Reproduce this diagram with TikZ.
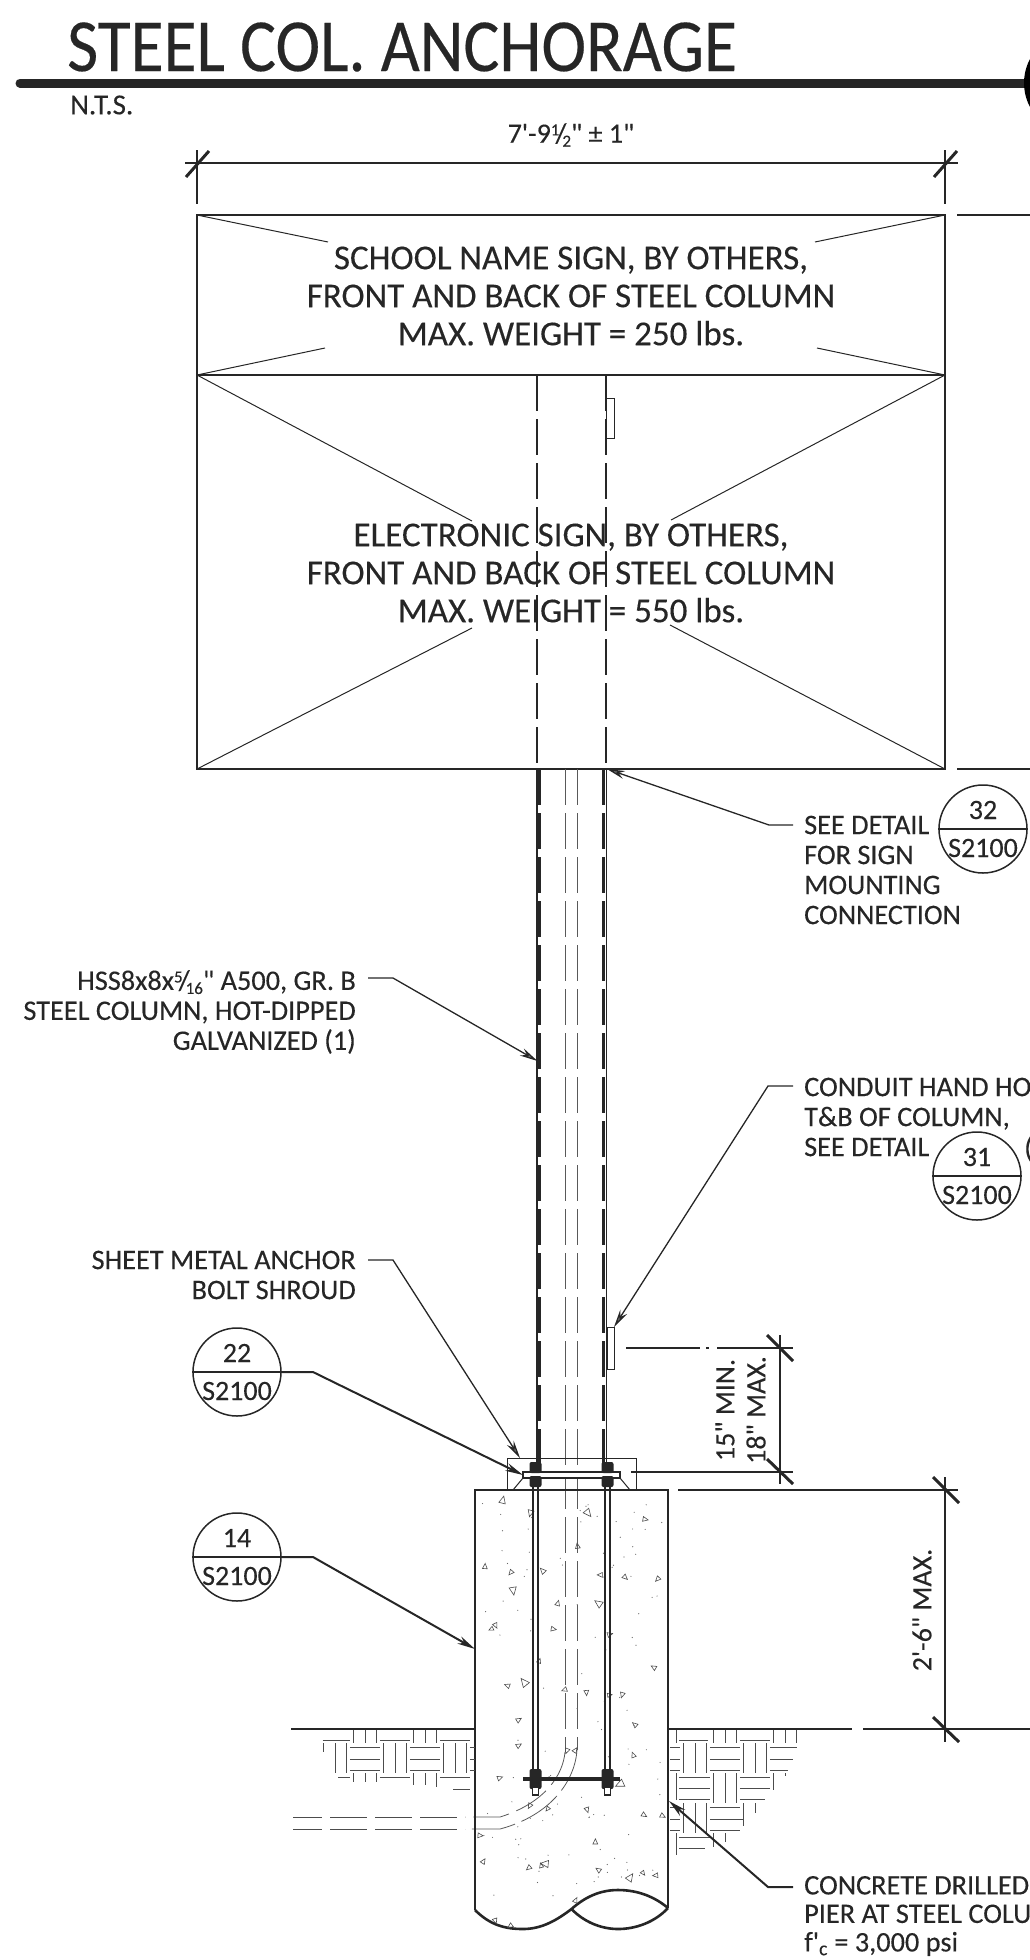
\documentclass[tikz,border=0pt]{standalone}
\usepackage{fontspec}
\usetikzlibrary{arrows.meta}
\newfontfamily\cadfont{Carlito}[FakeBold=.25]
\newfontfamily\cadnarrow{Carlito}[FakeStretch=.9,FakeBold=.25]
\newcommand{\stackfrac}[2]{\raisebox{.55ex}{\fontsize{17}{17}\selectfont #1}\kern-.14em/\kern-.14em\raisebox{-.3ex}{\fontsize{17}{17}\selectfont #2}}
\colorlet{ink}{black!85}
\tikzset{
	every node/.style={font=\cadfont, text=ink, inner sep=0pt},
	signtext/.style={align=center, font=\cadfont\fontsize{35}{38}\selectfont},
	notetext/.style={font=\cadfont\fontsize{28.3}{30}\selectfont},
	piertext/.style={font=\cadfont\fontsize{28.3}{28.5}\selectfont},
	dimtext/.style={font=\cadfont\fontsize{28}{31}\selectfont},
	bubble/.style={draw=ink, circle, line width=1.5pt, minimum size=88pt},
	bubbletext/.style={font=\cadfont\fontsize{28}{28}\selectfont},
	thinline/.style={draw=ink, line width=1pt},
	mainline/.style={draw=ink, line width=1.5pt},
	dimline/.style={draw=ink, line width=1.1pt},
	dimtick/.style={draw=ink, line width=3pt},
	leader/.style={draw=ink, line width=1.3pt, -{Stealth[length=18pt,width=8pt,fill=black!55]}},
	heavyleader/.style={leader, line width=2pt},
	coldash/.style={draw=ink, line width=2.2pt, dash pattern=on 36pt off 8pt},
	centerdash/.style={draw=black!65, line width=.8pt, dash pattern=on 36pt off 8pt},
	soil/.style={draw=black!70, line width=.7pt},
	pier/.style={draw=ink, line width=2.6pt},
	boltline/.style={draw=ink, line width=2pt},
	nut/.style={fill=ink, rounded corners=2pt},
	aggregate/.style={draw=black!70, line width=.6pt}
}
\begin{document}
\begin{tikzpicture}[x=1pt,y=-1pt]
\useasboundingbox (0,0) rectangle (1030,1960);

% title
\node (title) [anchor=west, font=\cadnarrow\fontsize{75}{75}\selectfont] at (67,47) {STEEL COL. ANCHORAGE};
\draw[line width=9pt, ink, line cap=round] (20,83) -- (1030,83);
\draw[line width=10pt, black] (1075,83) circle (46);
\node (nts) [anchor=west, font=\cadfont\fontsize{29}{29}\selectfont] at (70,105) {N.T.S.};

% width dimension
\node (widthdim) [dimtext] at (571,135) {7'-9\stackfrac{1}{2}" ± 1"};
\draw[dimline] (185,163) -- (958,163);
\draw[dimline] (197,150) -- (197,204);
\draw[dimline] (945,150) -- (945,204);
\draw[dimtick] (186,177) -- (209,151);
\draw[dimtick] (934,177) -- (957,151);
\draw[mainline] (957,215) -- (1030,215);
\draw[mainline] (957,769) -- (1030,769);

% signs
\draw[mainline] (197,215) rectangle (945,769);
\draw[mainline] (197,375) -- (945,375);
\draw[thinline] (197,215) -- (328,242);
\draw[thinline] (945,215) -- (815,242);
\draw[thinline] (197,375) -- (325,348);
\draw[thinline] (945,375) -- (817,348);
\draw[thinline] (197,375) -- (472,521);
\draw[thinline] (945,375) -- (671,520);
\draw[thinline] (197,769) -- (472,628);
\draw[thinline] (945,769) -- (670,625);
\node (schoolsign) [signtext] at (571,296) {SCHOOL NAME SIGN, BY OTHERS,\\FRONT AND BACK OF STEEL COLUMN\\MAX. WEIGHT = 250 lbs.};
\node (elecsign) [signtext] at (571,573) {ELECTRONIC SIGN, BY OTHERS,\\FRONT AND BACK OF STEEL COLUMN\\MAX. WEIGHT = 550 lbs.};
\draw[coldash, line width=1.1pt] (537,375) -- (537,769);
\draw[coldash, line width=1.1pt] (606,375) -- (606,769);
\draw[thinline] (606,398) rectangle (614,438);

% column
\draw[mainline] (537,769) -- (537,1470);
\draw[mainline] (606.5,769) -- (606.5,1470);
\draw[coldash] (539.5,769) -- (539.5,1470);
\draw[coldash] (603.5,769) -- (603.5,1470);
\draw[centerdash] (565,769) -- (565,1752);
\draw[centerdash] (577,769) -- (577,1750);
\draw[thinline] (607,1327) rectangle (614,1369);

% conduit
\draw[centerdash] (565,1752) .. controls (563,1775) and (545,1803) .. (500,1817) -- (465,1817);
\draw[centerdash, dash pattern=on 44pt off 7pt] (577,1750) .. controls (575,1780) and (552,1815) .. (500,1829) -- (465,1829);
\draw[soil, dash pattern=on 29pt off 8pt on 37pt off 8pt on 37pt off 8pt on 37pt off 8pt on 37pt off 8pt] (293,1817) -- (465,1817);
\draw[soil, dash pattern=on 29pt off 8pt on 37pt off 8pt on 37pt off 8pt on 37pt off 8pt on 37pt off 8pt] (293,1829) -- (465,1829);

% shroud
\draw[thinline] (507,1490) -- (507,1458) -- (636,1458) -- (636,1490);
\draw[thinline] (523,1478) -- (513,1490);
\draw[thinline] (620,1478) -- (630,1490);

% concrete pier
\draw[pier] (475,1910) -- (475,1490) -- (668,1490) -- (668,1908);
\draw[pier] (475,1910) .. controls (490,1925) and (505,1929) .. (523,1929) .. controls (542,1929) and (557,1920) .. (571.5,1909) .. controls (585,1897) and (600,1890) .. (618,1890) .. controls (638,1890) and (655,1897) .. (668,1908);
\draw[pier] (571.5,1909) .. controls (583,1921) and (600,1929) .. (618,1929) .. controls (636,1929) and (655,1922) .. (668,1908);

\foreach \tx/\ty/\ts in {988/507/1.1,1065/538/1,1227/538/1.2,1387/552/.8,1197/613/.8,938/660/.8,1010/675/.8,1099/670/.9,1260/680/.8,1331/686/.8,1421/690/.8,1017/717/1.2,1142/745/.8,1255/745/1.2,968/797/.8,955/805/.7,1130/805/.8,1288/817/.8,1090/878/.7,1410/893/.8,1047/927/1.3,1000/935/.8,1160/945/.8,1222/952/.8,1287/957/.7,1322/957/.8,1033/1014/.8,1357/1025/.8,1033/1073/.8,1353/1095/.8,1167/1086/.8,1191/1084/.8,980/1148/.8,1315/1163/1.3,1063/1213/.8,1113/1220/.7,1224/1222/.8,1384/1234/.8,1436/1236/.8,925/1281/.8,1247/1295/.8,934/1340/.8,1060/1356/.8,1095/1350/.7,1105/1346/1.2,1255/1360/.8,1345/1377/1.2,1381/1368/.7,1415/1373/.8,1192/1430/.8,967/1478/.8,1008/1490/.8}
{
	\draw[aggregate, shift={({150+\tx/2.8},{1280+\ty/2.306})}, rotate={mod(\tx*7,360)}, scale=\ts] (-3,-3) -- (3.5,0) -- (-3,3) -- cycle;
}
\pgfmathsetseed{17}
\foreach \i in {1,...,110}
{
	\pgfmathsetmacro\sx{481+181*rnd}
	\pgfmathsetmacro\sy{1496+400*rnd}
	\fill[black!60] (\sx,\sy) circle (.6);
}

% anchor bolts and plates
\foreach \bx in {533,538,605,610}
{
	\draw[boltline] (\bx,1468) -- (\bx,1779);
}
\draw[ink, line width=1.6pt, fill=white] (523,1472) rectangle (620,1478);
\draw[ink, line width=4pt] (523,1779) -- (620,1779);
\foreach \bx in {535.5,607.5}
{
	\fill[nut] (\bx-6,1462) rectangle (\bx+6,1473);
	\fill[nut] (\bx-6,1476) rectangle (\bx+6,1487);
	\fill[nut] (\bx-6,1769) rectangle (\bx+6,1789);
	\draw[boltline, line width=1.5pt, fill=white] (\bx-3,1787) rectangle (\bx+3,1795);
}

% soil hatch left and right of the pier
\draw[ink, line width=1.6pt] (291,1729) -- (475,1729);
\draw[ink, line width=1.6pt] (668,1729) -- (852,1729);
\draw[ink, line width=1.6pt] (863,1729) -- (1030,1729);
\begin{scope}[shift={(280,1700)}, x=.3333pt, y=-.3333pt]
\foreach \ha/\hb/\hy in {128/210/122,300/390/122,480/570/122,210/300/143,210/300/178,210/300/210,390/480/143,390/480/178,390/480/210,570/585/143,570/585/178,570/585/210,175/210/233,300/390/233,480/570/233,520/570/268,
	1198/1285/120,1380/1470/120,1170/1200/143,1170/1200/178,1170/1200/210,1290/1380/143,1290/1380/178,1290/1380/210,1470/1550/143,1470/1540/178,1470/1525/210,1198/1290/233,1198/1290/266,1198/1290/298,1380/1470/233,1380/1470/266,1380/1455/298,1170/1200/322,1170/1200/357,1170/1200/390,1290/1380/322,1290/1390/357,1290/1380/390,1198/1290/412,1198/1275/445}
{
	\draw[soil] (\ha,\hy) -- (\hb,\hy);
}
\foreach \vx/\va/\vb in {220/90/130,255/90/130,290/90/130,400/90/130,435/90/130,470/90/130,130/130/155,165/130/220,200/130/220,310/130/220,345/130/220,380/130/220,490/130/220,525/130/220,560/130/220,220/220/245,255/220/245,290/220/245,400/220/255,435/220/255,470/220/260,
	1190/90/130,1300/90/130,1335/90/130,1370/90/130,1480/90/130,1515/90/130,1550/90/130,1210/130/220,1245/130/220,1280/130/220,1390/130/220,1425/130/220,1460/130/220,1190/220/300,1300/220/310,1335/220/310,1370/220/310,1480/220/270,1515/220/228,1210/310/400,1245/310/400,1280/310/400,1390/310/378,1425/310/340,1190/400/465,1300/400/440,1335/400/425}
{
	\draw[soil] (\vx,\va) -- (\vx,\vb);
}
\end{scope}

% height dimensions
\draw[dimline] (626,1348) -- (700,1348);
\draw[dimline] (706,1348) -- (709,1348);
\draw[dimline] (717,1348) -- (793,1348);
\draw[dimline] (631,1472) -- (793,1472);
\draw[dimline] (780,1335) -- (780,1484);
\draw[dimtick] (767,1335) -- (793,1361);
\draw[dimtick] (767,1459) -- (793,1484);
\node (min15) [dimtext, rotate=90] at (725,1410) {15" MIN.};
\node (max18) [dimtext, rotate=90] at (756,1410) {18" MAX.};
\draw[mainline] (678,1490) -- (958,1490);
\draw[dimline] (945,1477) -- (945,1742);
\draw[dimtick] (933,1477) -- (959,1503);
\draw[dimtick] (933,1717) -- (959,1742);
\node (max26) [dimtext, rotate=90] at (922,1610) {2'-6" MAX.};

% detail bubbles
\foreach \bname/\bx/\by/\bnum in {b22/237/1372/22,b14/237/1557/14,b32/983/829/32,b31/977/1176/31}
{
	\node (\bname) [bubble] at (\bx,\by) {};
	\draw[ink, line width=1.8pt] (\bname.west) -- (\bname.east);
	\node (\bname top) [bubbletext] at (\bx,\by-19) {\bnum};
	\node (\bname low) [bubbletext] at (\bx,\by+19) {S2100};
}

% notes
\node (hsslabel) [notetext, anchor=east, align=right] at (356,1012) {HSS8x8x\stackfrac{5}{16}" A500, GR. B\\STEEL COLUMN, HOT-DIPPED\\GALVANIZED (1)};
\node (shroudlabel) [notetext, anchor=east, align=right] at (356,1275) {SHEET METAL ANCHOR\\BOLT SHROUD};
\node (mountlabel) [notetext, anchor=west, align=left] at (804,870) {SEE DETAIL\\FOR SIGN\\MOUNTING\\CONNECTION};
\node (handlabel) [notetext, anchor=west, align=left] at (804,1117) {CONDUIT HAND HO\\T\&B OF COLUMN,\\SEE DETAIL};
\node (hookmark) [notetext, anchor=west] at (1024,1149) {(};
\node (pierlabel) [piertext, anchor=west, align=left] at (804,1916) {CONCRETE DRILLED\\PIER AT STEEL COLU\\f'\textsubscript{c} = 3,000 psi};

% leaders
\coordinate (hssstart) at (368,978);
\coordinate (hssknee) at (393,978);
\coordinate (hsstip) at (537.5,1061);
\coordinate (shroudstart) at (368,1260);
\coordinate (shroudknee) at (393,1260);
\coordinate (shroudtip) at (520,1458);
\coordinate (b22knee) at (313,1372);
\coordinate (b22tip) at (523,1475);
\coordinate (b14knee) at (313,1557);
\coordinate (b14tip) at (475,1649);
\coordinate (mountstart) at (793,825);
\coordinate (mountknee) at (769,825);
\coordinate (mounttip) at (607,769);
\coordinate (handstart) at (793,1086);
\coordinate (handknee) at (768,1086);
\coordinate (handtip) at (614,1327);
\coordinate (pierstart) at (793,1887);
\coordinate (pierknee) at (768,1887);
\coordinate (piertip) at (669,1801);
\draw[leader] (hssstart) -- (hssknee) -- (hsstip);
\draw[leader] (shroudstart) -- (shroudknee) -- (shroudtip);
\draw[heavyleader] (b22.east) -- (b22knee) -- (b22tip);
\draw[heavyleader] (b14.east) -- (b14knee) -- (b14tip);
\draw[leader] (mountstart) -- (mountknee) -- (mounttip);
\draw[leader] (handstart) -- (handknee) -- (handtip);
\draw[heavyleader] (pierstart) -- (pierknee) -- (piertip);
\end{tikzpicture}
\end{document}
